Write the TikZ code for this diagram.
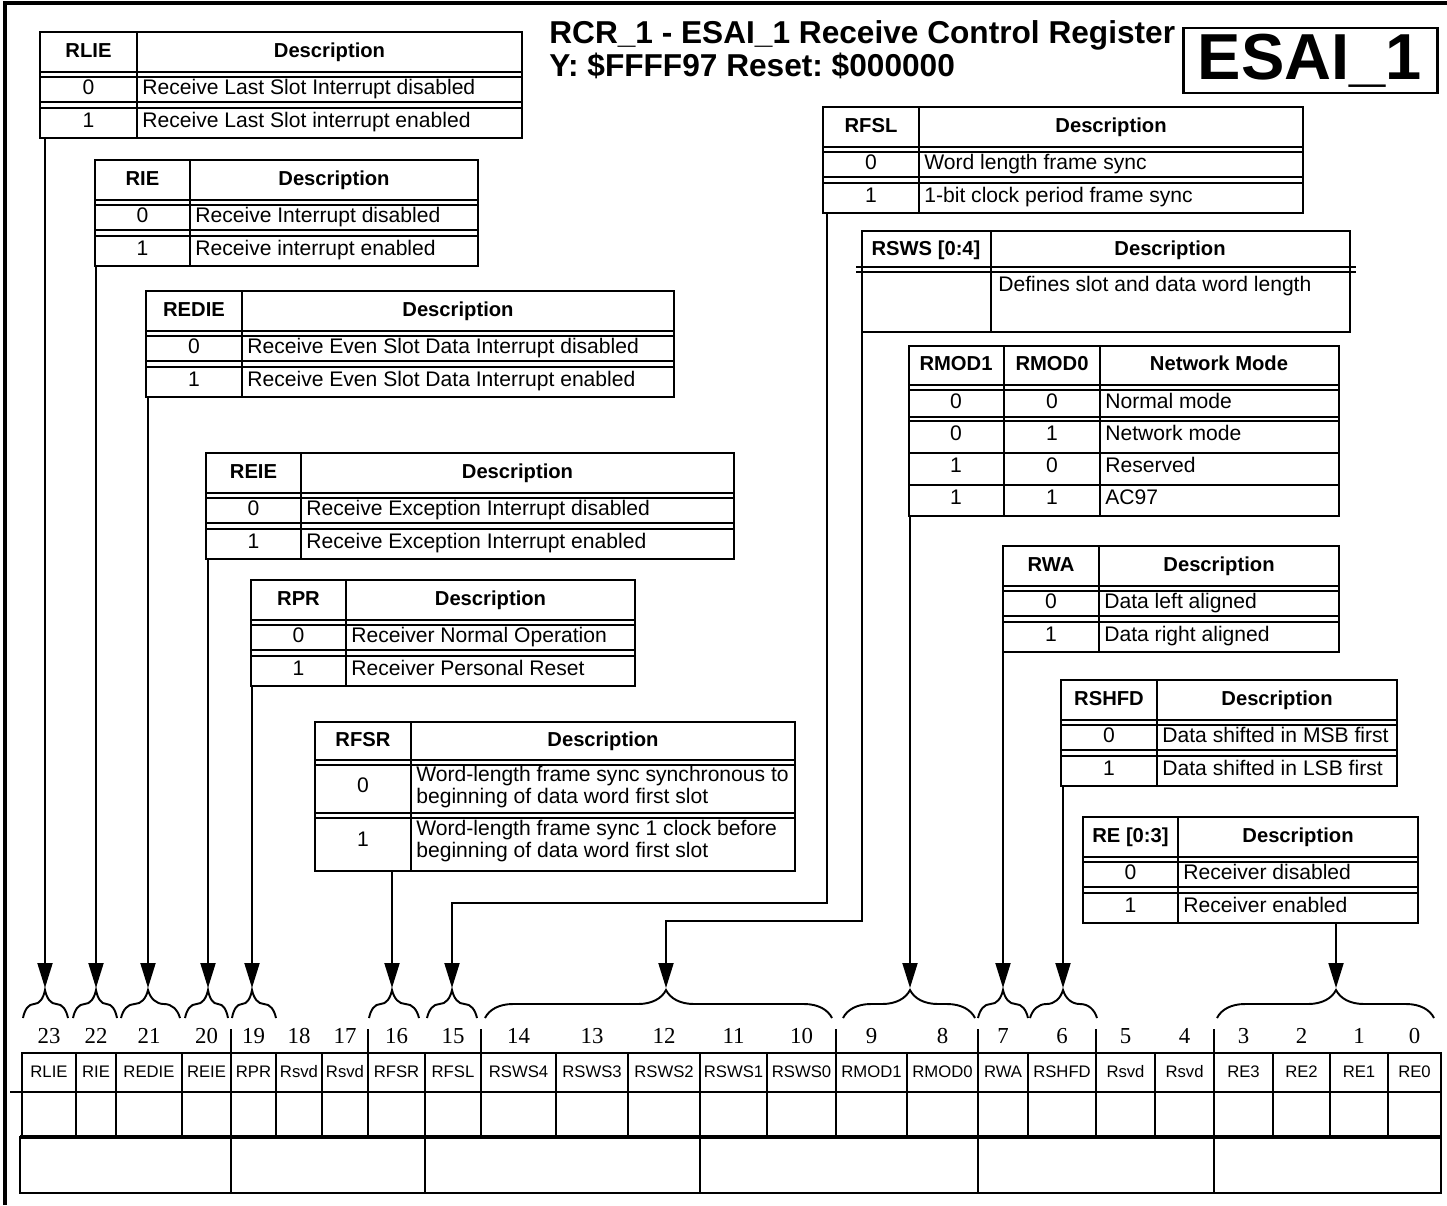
\documentclass[tikz,border=0pt]{standalone}
\usepackage{fontspec}
\setmainfont{Liberation Sans}
\newfontfamily\bitnumfont{Liberation Serif}
\usetikzlibrary{arrows.meta, decorations.pathreplacing, calc}
\frenchspacing

\tikzset{
  tline/.style={line width=1.1pt},
  cell/.style={font=\fontsize{12}{12}\selectfont, inner sep=0pt},
  hdr/.style={cell, font=\fontsize{11.5}{12}\selectfont\bfseries, text height=1.5ex, text depth=.25ex},
  val/.style={cell, text height=1.5ex, text depth=.25ex},
  txt/.style={val, anchor=west},
  txtml/.style={cell, anchor=west, align=left},
  arr/.style={line width=1.1pt, -{Triangle[length=5mm, width=3mm]}},
  brc/.style={line width=1.1pt, decorate},
  bitlab/.style={font=\fontsize{9.5}{10}\selectfont, inner sep=0pt},
  bitnum/.style={font=\bitnumfont\fontsize{13}{13}\selectfont, inner sep=0pt},
}

% field table: name, left, divider, right, top, field, text for 0, text for 1
\newcommand{\fieldtable}[8]{%
  \draw[tline] (#2,#5) rectangle (#4,#5+106) (#3,#5) -- (#3,#5+106);
  \draw[tline] (#2,#5+40) -- (#4,#5+40) (#2,#5+45) -- (#4,#5+45)
               (#2,#5+70) -- (#4,#5+70) (#2,#5+76) -- (#4,#5+76);
  \coordinate (#1-sw) at (#2,#5+106);
  \node[hdr] (#1-key)  at ({(#2+#3)/2},#5+20) {#6};
  \node[hdr] (#1-desc) at ({(#3+#4)/2},#5+20) {Description};
  \node[val] (#1-v0) at ({(#2+#3)/2},#5+57) {0};
  \node[txt] (#1-t0) at (#3+5,#5+57) {#7};
  \node[val] (#1-v1) at ({(#2+#3)/2},#5+90) {1};
  \node[txt] (#1-t1) at (#3+5,#5+90) {#8};
}

\begin{document}
\begin{tikzpicture}[x=0.2mm, y=-0.2mm]
  \useasboundingbox (0,0) rectangle (1447,1205);

  % Frame
  \draw[line width=2pt] (5,1205) -- (5,3) -- (1447,3);

  % Title
  \node[anchor=base west, inner sep=0pt, font=\fontsize{18}{18}\selectfont\bfseries] (title1) at (549,43)
    {RCR\_1 - ESAI\_1 Receive Control Register};
  \node[anchor=base west, inner sep=0pt, font=\fontsize{18}{18}\selectfont\bfseries] (title2) at (549,76)
    {Y: \$FFFF97 Reset: \$000000};
  \node[draw, line width=1.7pt, minimum width=50.8mm, minimum height=13mm, inner sep=0pt,
        font=\fontsize{37}{37}\selectfont\bfseries] (esai) at (1310,60.5) {ESAI\_1};

  % Field tables
  \fieldtable{rlie}{40}{137}{522}{32}{RLIE}{Receive Last Slot Interrupt disabled}{Receive Last Slot interrupt enabled}
  \fieldtable{rie}{95}{190}{478}{160}{RIE}{Receive Interrupt disabled}{Receive interrupt enabled}
  \fieldtable{redie}{146}{242}{674}{291}{REDIE}{Receive Even Slot Data Interrupt disabled}{Receive Even Slot Data Interrupt enabled}
  \fieldtable{reie}{206}{301}{734}{453}{REIE}{Receive Exception Interrupt disabled}{Receive Exception Interrupt enabled}
  \fieldtable{rpr}{251}{346}{635}{580}{RPR}{Receiver Normal Operation}{Receiver Personal Reset}
  \fieldtable{rfsl}{823}{919}{1303}{107}{RFSL}{Word length frame sync}{1-bit clock period frame sync}
  \fieldtable{rwa}{1003}{1099}{1339}{546}{RWA}{Data left aligned}{Data right aligned}
  \fieldtable{rshfd}{1061}{1157}{1397}{680}{RSHFD}{Data shifted in MSB first}{Data shifted in LSB first}
  \fieldtable{re}{1083}{1178}{1418}{817}{RE [0:3]}{Receiver disabled}{Receiver enabled}

  % RFSR table
  \draw[tline] (315,722) rectangle (795,871) (411,722) -- (411,871);
  \draw[tline] (315,760) -- (795,760) (315,765) -- (795,765)
               (315,813) -- (795,813) (315,818) -- (795,818);
  \coordinate (rfsr-sw) at (315,871);
  \node[hdr] (rfsr-key) at (363,741) {RFSR};
  \node[hdr] (rfsr-desc) at (603,741) {Description};
  \node[val] (rfsr-v0) at (363,787) {0};
  \node[txtml] (rfsr-t0) at (416,787) {Word-length frame sync synchronous to\\beginning of data word first slot};
  \node[val] (rfsr-v1) at (363,841) {1};
  \node[txtml] (rfsr-t1) at (416,841) {Word-length frame sync 1 clock before\\beginning of data word first slot};

  % RSWS table
  \draw[tline] (862,231) rectangle (1350,332) (991,231) -- (991,332);
  \draw[tline] (856,267) -- (1356,267) (856,272) -- (1356,272);
  \coordinate (rsws-sw) at (862,332);
  \node[hdr] (rsws-key) at (926,250) {RSWS [0:4]};
  \node[hdr] (rsws-desc) at (1170,250) {Description};
  \node[txt] (rsws-t) at (998,286) {Defines slot and data word length};

  % RMOD table
  \draw[tline] (909,346) rectangle (1339,516) (1004,346) -- (1004,516) (1100,346) -- (1100,516);
  \draw[tline] (909,385) -- (1339,385) (909,390) -- (1339,390) (909,417) -- (1339,417)
               (909,421) -- (1339,421) (909,453) -- (1339,453) (909,485) -- (1339,485);
  \coordinate (rmod-sw) at (909,516);
  \node[hdr] (rmod-k1) at (956,365) {RMOD1};
  \node[hdr] (rmod-k0) at (1052,365) {RMOD0};
  \node[hdr] (rmod-desc) at (1219,365) {Network Mode};
  \foreach \yy/\ma/\mb/\mt [count=\i] in {403/0/0/Normal mode, 435/0/1/Network mode, 467/1/0/Reserved, 499/1/1/AC97}{
    \node[val] (rmod-a\i) at (956,\yy) {\ma};
    \node[val] (rmod-b\i) at (1052,\yy) {\mb};
    \node[txt] (rmod-t\i) at (1105,\yy) {\mt};
  }

  % Braces
  \foreach \nm/\xa/\xb/\xt in {rlie/23/68/45, rie/73/117/96, redie/121/180/148, reie/185/228/208,
      rpr/232/276/252, rfsr/369/419/392, rfsl/427/477/452, rsws/485/832/666, rmod/843/975/910,
      rwa/978/1028/1003, rshfd/1030/1097/1063, re/1217/1434/1336}{
    \pgfmathsetmacro{\asp}{(\xt-\xa)/(\xb-\xa)}
    \draw[brc, decoration={brace, amplitude=5.6mm, aspect=\asp}] (\xa,1018) -- (\xb,1018);
    \coordinate (\nm-tip) at (\xt,988);
  }

  % Arrows
  \foreach \nm in {rlie,rie,redie,reie,rpr,rfsr,rmod,rwa,rshfd,re}
    \draw[arr] (\nm-tip |- \nm-sw) -- (\nm-tip);
  \coordinate (rfsl-bend) at (827,903);
  \draw[arr] (rfsl-bend |- rfsl-sw) -- (rfsl-bend) -| (rfsl-tip);
  \coordinate (rsws-bend) at (862,921);
  \draw[arr] (rsws-bend |- rsws-sw) -- (rsws-bend) -| (rsws-tip);

  % Register bits
  \foreach \xa/\xb/\bitno/\lab in {22/76/23/RLIE, 76/116/22/RIE, 116/182/21/REDIE, 182/231/20/REIE,
      231/276/19/RPR, 276/322/18/Rsvd, 322/368/17/Rsvd, 368/425/16/RFSR, 425/481/15/RFSL,
      481/556/14/RSWS4, 556/628/13/RSWS3, 628/700/12/RSWS2, 700/767/11/RSWS1, 767/836/10/RSWS0,
      836/907/9/RMOD1, 907/978/8/RMOD0, 978/1028/7/RWA, 1028/1096/6/RSHFD, 1096/1155/5/Rsvd,
      1155/1214/4/Rsvd, 1214/1273/3/RE3, 1273/1330/2/RE2, 1330/1388/1/RE1, 1388/1441/0/RE0}{
    \draw[tline] (\xa,1053) rectangle (\xb,1136);
    \node[bitlab] (lab\bitno) at ({(\xa+\xb)/2},1072) {\lab};
    \node[bitnum] (num\bitno) at ({(\xa+\xb)/2},1036) {\bitno};
  }
  \draw[tline] (10,1092) -- (1441,1092);
  \foreach \xx in {231,368,481,836,978,1096,1214}
    \draw[tline] (\xx,1029) -- (\xx,1053);

  % Bottom row
  \draw[tline] (20,1137) rectangle (1441,1193);
  \draw[line width=2.2pt] (20,1137) -- (1441,1137);
  \foreach \xx in {231,425,700,978,1214}
    \draw[tline] (\xx,1137) -- (\xx,1193);

\end{tikzpicture}
\end{document}
